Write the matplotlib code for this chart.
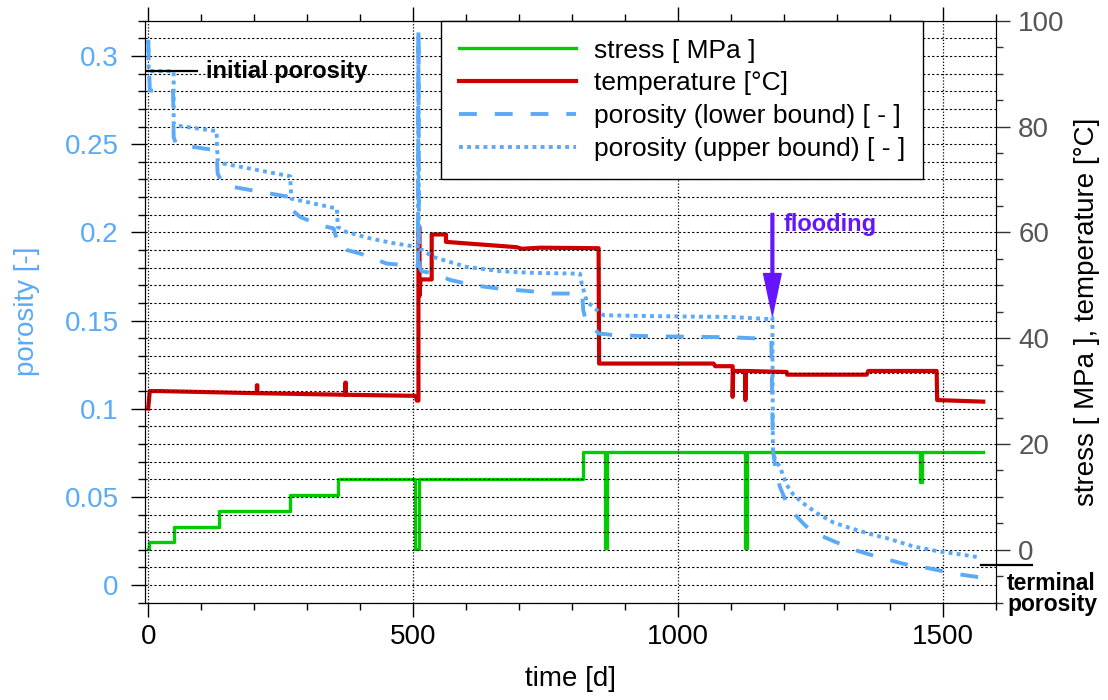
import matplotlib
matplotlib.use("Agg")
import matplotlib.pyplot as plt
from matplotlib.ticker import MultipleLocator, FuncFormatter

plt.rcParams['font.family'] = ['Liberation Sans', 'DejaVu Sans']

# --- data ---
stress_day = [0, 1, 49, 133, 268, 358, 504, 511, 820, 863, 866, 1127, 1130, 1457, 1460, 1576]
stress_mpa = [0.2, 1.45, 4.3, 7.4, 10.4, 13.4, 0.2, 13.4, 18.5, 0.3, 18.5, 0.3, 18.5, 12.9, 18.5, 18.5]

temp_day = [0, 3, 20, 205, 205, 206, 206, 372, 372, 373, 373,
            505, 507, 510, 510, 512, 512, 514, 535, 535, 562, 562,
            695, 705, 740, 850, 851,
            1067, 1070, 1103, 1103, 1104,
            1127, 1127, 1128,
            1205, 1206, 1356, 1359,
            1488, 1489, 1576]
temp_c = [26.7, 30.0, 30.0, 29.6, 31.1, 31.1, 29.6, 29.3, 31.6, 31.6, 29.3,
          29.1, 28.2, 28.2, 61.0, 61.0, 48.0, 51.1, 51.1, 59.6, 59.6, 58.2,
          57.2, 56.9, 57.1, 57.0, 35.2,
          35.2, 34.7, 34.7, 28.9, 33.8,
          33.8, 28.3, 33.8,
          33.6, 33.1, 33.1, 33.8,
          33.8, 28.3, 28.0]

por_up_day = [0, 1, 48, 48, 52, 129, 131, 142, 268, 270,
              356, 358, 374, 420, 460, 500, 509, 510, 511, 513,
              538, 601, 664, 727, 790, 815, 818, 828, 840, 850,
              859, 950, 1100, 1174, 1178, 1179, 1183, 1192, 1205, 1218,
              1236, 1262, 1293, 1325, 1368, 1394, 1444, 1494, 1538, 1570]
por_up = [0.309, 0.2914, 0.2914, 0.2616, 0.2606, 0.2574, 0.2408, 0.239, 0.2318, 0.2191,
          0.2135, 0.203, 0.2002, 0.1965, 0.194, 0.1921, 0.192, 0.3135, 0.192, 0.1908,
          0.186, 0.1804, 0.178, 0.177, 0.1767, 0.1765, 0.171, 0.1606, 0.1578, 0.155,
          0.153, 0.1525, 0.152, 0.1508, 0.1518, 0.0767, 0.071, 0.0672, 0.0568, 0.0511,
          0.0464, 0.0408, 0.0355, 0.0323, 0.0285, 0.0266, 0.0219, 0.019, 0.0172, 0.0156]

por_lo_day = [0, 3, 36, 47, 48, 52, 66, 129, 131, 140,
              161, 268, 270, 287, 325, 350, 358, 362, 400, 450,
              500, 509, 510, 511, 516, 538, 570, 614, 665, 715,
              765, 819, 821, 825, 850, 880, 950, 1100, 1176, 1179,
              1185, 1192, 1205, 1218, 1236, 1252, 1285, 1332, 1380, 1426,
              1474, 1521, 1567]
por_lo = [0.309, 0.2804, 0.2804, 0.280, 0.254, 0.2505, 0.2493, 0.2465, 0.2333, 0.228,
          0.2257, 0.220, 0.213, 0.2087, 0.204, 0.2022, 0.1937, 0.191, 0.188, 0.1823,
          0.181, 0.181, 0.3135, 0.181, 0.178, 0.1767, 0.173, 0.170, 0.168, 0.1668,
          0.1653, 0.1653, 0.156, 0.151, 0.1427, 0.1417, 0.1411, 0.1405, 0.1395, 0.0767,
          0.0636, 0.0558, 0.0466, 0.0408, 0.035, 0.0304, 0.026, 0.020, 0.0157, 0.012,
          0.0095, 0.0065, 0.0045]

initial_porosity = 0.2914
terminal_porosity = 0.0115
flooding_day = 1178

# colours
GREEN = '#00cc00'
RED = '#cc0000'
BLUE = '#5aaaf8'
PURPLE = '#6414ff'
GREY = '#555555'

fig = plt.figure(figsize=(11.08, 7), dpi=100)
ax = fig.add_axes([0.1309, 0.139, 0.768, 0.8314])
ax2 = ax.twinx()

# stress / temperature on the right axis
l_stress, = ax2.plot(stress_day, stress_mpa, color=GREEN, lw=2.4, drawstyle='steps-post')
l_temp, = ax2.plot(temp_day, temp_c, color=RED, lw=3.0)

# porosity on the left axis (drawn on top)
l_lo, = ax.plot(por_lo_day, por_lo, color=BLUE, lw=2.8, ls=(0, (4.6, 4.6)))
l_up, = ax.plot(por_up_day, por_up, color=BLUE, lw=2.8, ls=(0, (1.0, 1.1)))
ax.set_zorder(ax2.get_zorder() + 1)
ax.patch.set_visible(False)

# axes limits / ticks
ax.set_xlim(-6, 1600)
ax.set_ylim(-0.01, 0.32)
ax2.set_ylim(-10, 100)

ax.xaxis.set_major_locator(MultipleLocator(500))
ax.xaxis.set_minor_locator(MultipleLocator(100))
ax.yaxis.set_major_locator(MultipleLocator(0.05))
ax.yaxis.set_minor_locator(MultipleLocator(0.01))
ax.yaxis.set_major_formatter(FuncFormatter(lambda v, p: f'{v:g}'))
ax2.yaxis.set_major_locator(MultipleLocator(20))
ax2.yaxis.set_minor_locator(MultipleLocator(5))

ax.tick_params(axis='x', which='both', direction='out', top=True, labelsize=20, pad=5)
ax.tick_params(axis='x', which='major', length=10, width=1)
ax.tick_params(axis='x', which='minor', length=5, width=1)
ax.tick_params(axis='y', which='major', length=10, width=1, labelsize=20,
               labelcolor=BLUE, pad=9)
ax.tick_params(axis='y', which='minor', length=5, width=1)
ax2.tick_params(axis='y', which='major', length=10, width=1, labelsize=20,
                labelcolor=GREY, color='#333333', pad=6)
ax2.tick_params(axis='y', which='minor', length=5, width=1, color='#333333')
ax2.spines['right'].set_color('#333333')

# grid
ax.grid(axis='y', which='both', color='k', lw=0.8, ls=(0, (2, 2)))
ax.grid(axis='x', which='major', color='k', lw=0.9, ls=(0, (1, 1.5)))

ax.set_xlabel('time [d]', fontsize=20, labelpad=12)
ax.set_ylabel('porosity [-]', fontsize=20, color=BLUE, labelpad=18)
ax2.set_ylabel('stress [ MPa ], temperature [°C]', fontsize=20, labelpad=7)

# annotations
ax.plot([-6, 92], [initial_porosity, initial_porosity], color='k', lw=1.6)
ax.text(109, initial_porosity, 'initial porosity', fontsize=17, fontweight='bold',
        va='center', ha='left')
ax.plot([1572, 1668], [terminal_porosity, terminal_porosity], color='k', lw=1.6, clip_on=False)
ax.text(1621, 0.0072, 'terminal\nporosity', fontsize=16.5, fontweight='bold',
        va='top', ha='left', linespacing=0.88, clip_on=False)
ax.annotate('', xy=(flooding_day, 0.153), xytext=(flooding_day, 0.2107),
            arrowprops=dict(color=PURPLE, width=2.0, headwidth=12.7, headlength=30, shrink=0))
ax.text(1200, 0.2045, 'flooding', fontsize=17, fontweight='bold', color=PURPLE,
        va='center', ha='left')

# legend
leg = ax.legend([l_stress, l_temp, l_lo, l_up],
                ['stress [ MPa ]', 'temperature [°C]',
                 'porosity (lower bound) [ - ]', 'porosity (upper bound) [ - ]'],
                loc='upper left', bbox_to_anchor=(0.3475, 1.0), borderaxespad=0,
                fontsize=19, handlelength=4.43, handletextpad=0.69,
                labelspacing=0.33, borderpad=0.68, fancybox=False,
                framealpha=1, edgecolor='k')
leg.get_frame().set_linewidth(1.0)

fig.savefig('out.png', dpi=100)
